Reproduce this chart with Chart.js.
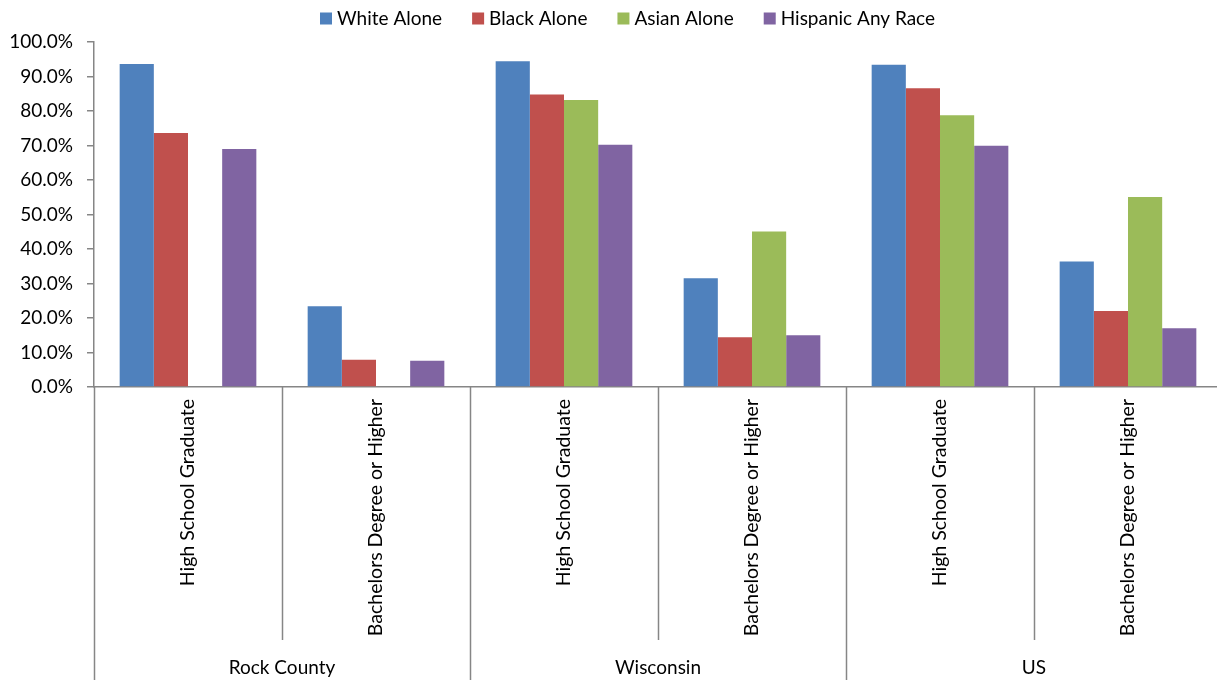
<!DOCTYPE html>
<html>
<head>
<meta charset="utf-8">
<script src="https://cdn.jsdelivr.net/npm/chart.js@4/dist/chart.umd.min.js"></script>
<style>
  html, body { margin: 0; padding: 0; background: #fff; overflow: hidden; }
  #wrap { position: relative; width: 1222px; height: 680px; }
</style>
</head>
<body>
<div id="wrap"><canvas id="chart"></canvas></div>
<script>
// Educational attainment by race, share of adults 25+
const groups = ['Rock County', 'Wisconsin', 'US'];
const levels = ['High School Graduate', 'Bachelors Degree or Higher'];
const categories = ['High School Graduate', 'Bachelors Degree or Higher',
                    'High School Graduate', 'Bachelors Degree or Higher',
                    'High School Graduate', 'Bachelors Degree or Higher'];

const whiteAlone    = [93.6, 23.4, 94.4, 31.5, 93.4, 36.4];
const blackAlone    = [73.6,  7.9, 84.8, 14.4, 86.6, 22.0];
const asianAlone    = [null, null, 83.2, 45.1, 78.8, 55.1];
const hispanicAny   = [69.0,  7.6, 70.2, 15.0, 69.9, 17.0];

const seriesNames = ['White Alone', 'Black Alone', 'Asian Alone', 'Hispanic Any Race'];
const seriesColors = ['#4F81BD', '#C0504D', '#9BBB59', '#8064A2'];
const yTicks = [0, 10, 20, 30, 40, 50, 60, 70, 80, 90, 100];

const FONT = 'Lato, "Open Sans", sans-serif';
const AXIS_GREY = '#868686';

// Legend row across the top, built from the dataset labels and colours
const topLegend = {
  id: 'topLegend',
  afterDraw(chart) {
    const ctx = chart.ctx;
    const box = 12, boxGap = 5, itemGap = 30, midY = 18.5;
    ctx.save();
    ctx.font = '19px ' + FONT;
    ctx.textBaseline = 'middle';
    ctx.textAlign = 'left';
    const items = chart.data.datasets.map(ds => ({
      text: ds.label, color: ds.backgroundColor, w: ctx.measureText(ds.label).width
    }));
    const total = items.reduce((s, it) => s + box + boxGap + it.w, 0) + itemGap * (items.length - 1);
    const centerX = (chart.chartArea.left + chart.chartArea.right) / 2 - 30;
    let x = Math.round(centerX - total / 2);
    items.forEach(it => {
      ctx.fillStyle = it.color;
      ctx.fillRect(x, midY - box / 2, box, box);
      ctx.fillStyle = '#000';
      ctx.fillText(it.text, x + box + boxGap, midY);
      x += box + boxGap + it.w + itemGap;
    });
    ctx.restore();
  }
};

// Separators below the category axis and the outer group labels
const groupAxis = {
  id: 'groupAxis',
  afterDraw(chart) {
    const x = chart.scales.x;
    const ctx = chart.ctx;
    const axisY = chart.chartArea.bottom;
    const h = chart.height;
    ctx.save();
    ctx.strokeStyle = AXIS_GREY;
    ctx.lineWidth = 1.5;
    for (let i = 0; i <= categories.length; i++) {
      const px = Math.round(x.getPixelForValue(i - 0.5)) + 0.5;
      const isGroupEdge = i % levels.length === 0;
      ctx.beginPath();
      ctx.moveTo(px, axisY);
      ctx.lineTo(px, isGroupEdge ? h : axisY + 253);
      ctx.stroke();
    }
    ctx.fillStyle = '#000';
    ctx.font = '19px ' + FONT;
    ctx.textAlign = 'center';
    ctx.textBaseline = 'middle';
    groups.forEach((g, gi) => {
      const cx = x.getPixelForValue(gi * levels.length + (levels.length - 1) / 2);
      ctx.fillText(g, cx, 668);
    });
    ctx.restore();
  }
};

new Chart(document.getElementById('chart'), {
  type: 'bar',
  data: {
    labels: categories,
    datasets: [
      { label: seriesNames[0], data: whiteAlone,  backgroundColor: seriesColors[0] },
      { label: seriesNames[1], data: blackAlone,  backgroundColor: seriesColors[1] },
      { label: seriesNames[2], data: asianAlone,  backgroundColor: seriesColors[2] },
      { label: seriesNames[3], data: hispanicAny, backgroundColor: seriesColors[3] }
    ]
  },
  options: {
    responsive: true,
    maintainAspectRatio: false,
    animation: false,
    layout: { padding: { top: 42, right: 0, bottom: 0, left: 0 } },
    datasets: {
      bar: { categoryPercentage: 0.727, barPercentage: 1.0, borderWidth: 0 }
    },
    plugins: {
      legend: { display: false },
      tooltip: { enabled: false }
    },
    scales: {
      y: {
        min: 0,
        max: 100,
        afterBuildTicks(scale) { scale.ticks = yTicks.map(v => ({ value: v })); },
        afterFit(scale) { scale.width = 94; },
        ticks: {
          font: { family: FONT, size: 19 },
          color: '#000',
          padding: 14,
          callback: v => v.toFixed(1) + '%'
        },
        grid: { drawOnChartArea: false, drawTicks: true, tickLength: 7, color: AXIS_GREY, lineWidth: 1.5 },
        border: { color: AXIS_GREY, width: 1.5 }
      },
      x: {
        afterFit(scale) { scale.height = 293; },
        ticks: {
          font: { family: FONT, size: 19.5 },
          color: '#000',
          minRotation: 90,
          maxRotation: 90,
          autoSkip: false,
          padding: 12
        },
        grid: { display: true, drawOnChartArea: false, drawTicks: false, offset: true },
        border: { color: AXIS_GREY, width: 1.5 }
      }
    }
  },
  plugins: [topLegend, groupAxis]
});
</script>
</body>
</html>
